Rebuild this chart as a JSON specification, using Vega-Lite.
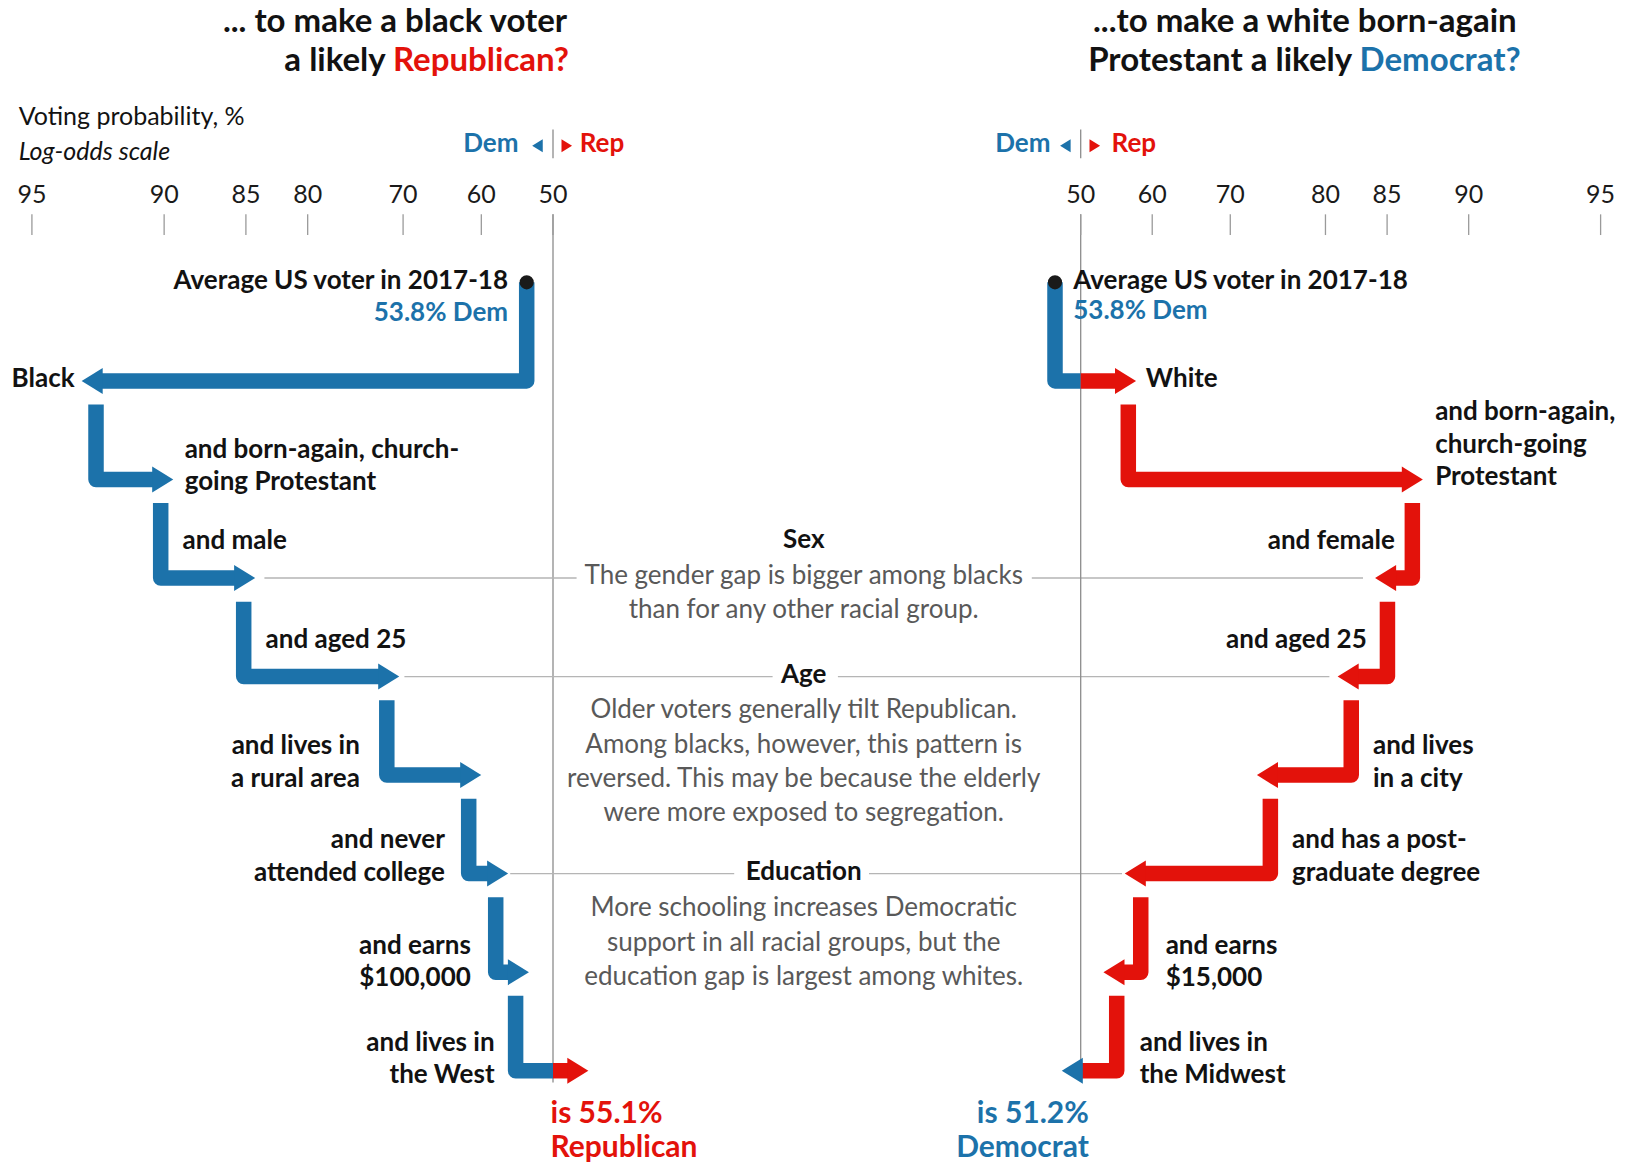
{
"$schema":"https://vega.github.io/schema/vega-lite/v6.json",
"width":1626,"height":1167,
"autosize":{"type":"fit","contains":"padding"},
"padding":0,
"background":"#ffffff",
"config":{"view":{"stroke":null},"font":"Lato"},
"datasets":{
"pathL":[
{"seg":"L1","o":1,"lo":-0.1486,"s":0,"c":"Dem"},{"seg":"L1","o":2,"lo":-0.1486,"s":1,"c":"Dem"},{"seg":"L1","o":3,"lo":-2.561,"s":1,"c":"Dem"},
{"seg":"L2","o":1,"lo":-2.5819,"s":1.24,"c":"Dem"},{"seg":"L2","o":2,"lo":-2.5819,"s":2,"c":"Dem"},{"seg":"L2","o":3,"lo":-2.2475,"s":2,"c":"Dem"},
{"seg":"L3","o":1,"lo":-2.2164,"s":2.24,"c":"Dem"},{"seg":"L3","o":2,"lo":-2.2164,"s":3,"c":"Dem"},{"seg":"L3","o":3,"lo":-1.7847,"s":3,"c":"Dem"},
{"seg":"L4","o":1,"lo":-1.7475,"s":3.24,"c":"Dem"},{"seg":"L4","o":2,"lo":-1.7475,"s":4,"c":"Dem"},{"seg":"L4","o":3,"lo":-0.9706,"s":4,"c":"Dem"},
{"seg":"L5","o":1,"lo":-0.939,"s":4.24,"c":"Dem"},{"seg":"L5","o":2,"lo":-0.939,"s":5,"c":"Dem"},{"seg":"L5","o":3,"lo":-0.5073,"s":5,"c":"Dem"},
{"seg":"L6","o":1,"lo":-0.4763,"s":5.24,"c":"Dem"},{"seg":"L6","o":2,"lo":-0.4763,"s":6,"c":"Dem"},{"seg":"L6","o":3,"lo":-0.3554,"s":6,"c":"Dem"},
{"seg":"L7","o":1,"lo":-0.3237,"s":6.24,"c":"Dem"},{"seg":"L7","o":2,"lo":-0.3237,"s":7,"c":"Dem"},{"seg":"L7","o":3,"lo":-0.2379,"s":7,"c":"Dem"},
{"seg":"L8a","o":1,"lo":-0.2113,"s":7.24,"c":"Dem"},{"seg":"L8a","o":2,"lo":-0.2113,"s":8,"c":"Dem"},{"seg":"L8a","o":3,"lo":0,"s":8,"c":"Dem"},
{"seg":"L8b","o":1,"lo":0,"s":8,"c":"Rep"},{"seg":"L8b","o":2,"lo":0.0977,"s":8,"c":"Rep"}
],
"headL":[
{"lo":-2.5441,"s":1,"dir":"left","c":"Dem"},{"lo":-2.2644,"s":2,"dir":"right","c":"Dem"},{"lo":-1.8017,"s":3,"dir":"right","c":"Dem"},{"lo":-0.9876,"s":4,"dir":"right","c":"Dem"},
{"lo":-0.5243,"s":5,"dir":"right","c":"Dem"},{"lo":-0.3723,"s":6,"dir":"right","c":"Dem"},{"lo":-0.2548,"s":7,"dir":"right","c":"Dem"},{"lo":0.0808,"s":8,"dir":"right","c":"Rep"}
],
"markL":[{"lo":-0.058,"s":-1.385,"dir":"left","c":"Dem"},{"lo":0.048,"s":-1.385,"dir":"right","c":"Rep"}],
"dotL":[{"lo":-0.1486,"s":0}],
"ticksL":[{"lo":-2.944,"lab":"95"},{"lo":-2.197,"lab":"90"},{"lo":-1.735,"lab":"85"},{"lo":-1.386,"lab":"80"},{"lo":-0.847,"lab":"70"},{"lo":-0.405,"lab":"60"},{"lo":0,"lab":"50"}],
"vL":[{"lo":0,"s1":-0.69,"s2":8.12},{"lo":0,"s1":-1.55,"s2":-1.26}],
"hL":[{"lo":-1.6305,"lo2":0.1333,"s":3},{"lo":2.7051,"lo2":4.5763,"s":3},{"lo":-0.8395,"lo2":1.2407,"s":4},{"lo":1.6096,"lo2":4.3864,"s":4},{"lo":-0.2418,"lo2":1.0237,"s":6},{"lo":1.7853,"lo2":3.2147,"s":6}],
"txtL":[
{"t":"Average US voter in 2017-18","lo":-0.254,"s":-0.013,"c":"ink","r":"label","a":"right"},
{"t":"53.8% Dem","lo":-0.254,"s":0.313,"c":"Dem","r":"label","a":"right"},
{"t":"Black","lo":-2.703,"s":0.976,"c":"ink","r":"label","a":"right"},
{"t":"and born-again, church-","lo":-2.081,"s":1.7,"c":"ink","r":"label","a":"left"},
{"t":"going Protestant","lo":-2.081,"s":2.028,"c":"ink","r":"label","a":"left"},
{"t":"and male","lo":-2.093,"s":2.628,"c":"ink","r":"label","a":"left"},
{"t":"and aged 25","lo":-1.624,"s":3.628,"c":"ink","r":"label","a":"left"},
{"t":"and lives in","lo":-1.091,"s":4.701,"c":"ink","r":"label","a":"right"},
{"t":"a rural area","lo":-1.091,"s":5.038,"c":"ink","r":"label","a":"right"},
{"t":"and never","lo":-0.611,"s":5.659,"c":"ink","r":"label","a":"right"},
{"t":"attended college","lo":-0.611,"s":5.996,"c":"ink","r":"label","a":"right"},
{"t":"and earns","lo":-0.464,"s":6.732,"c":"ink","r":"label","a":"right"},
{"t":"$100,000","lo":-0.464,"s":7.058,"c":"ink","r":"label","a":"right"},
{"t":"and lives in","lo":-0.33,"s":7.721,"c":"ink","r":"label","a":"right"},
{"t":"the West","lo":-0.33,"s":8.048,"c":"ink","r":"label","a":"right"},
{"t":"is 55.1%","lo":-0.014,"s":8.44,"c":"Rep","r":"result","a":"left"},
{"t":"Republican","lo":-0.014,"s":8.78,"c":"Rep","r":"result","a":"left"},
{"t":"... to make a black voter","lo":0.08,"s":-2.643,"c":"ink","r":"title","a":"right"},
{"t":"a likely","lo":-0.945,"s":-2.243,"c":"ink","r":"title","a":"right"},
{"t":"Republican?","lo":-0.904,"s":-2.243,"c":"Rep","r":"title","a":"left"},
{"t":"Voting probability, %","lo":-3.019,"s":-1.675,"c":"ink","r":"axis","a":"left"},
{"t":"Log-odds scale","lo":-3.019,"s":-1.318,"c":"ink","r":"axisnote","a":"left"},
{"t":"Dem","lo":-0.195,"s":-1.402,"c":"Dem","r":"party","a":"right"},
{"t":"Rep","lo":0.151,"s":-1.402,"c":"Rep","r":"party","a":"left"},
{"t":"Sex","lo":1.4164,"s":2.618,"c":"ink","r":"topic","a":"center"},
{"t":"The gender gap is bigger among blacks","lo":1.4164,"s":2.975,"c":"note","r":"note","a":"center"},
{"t":"than for any other racial group.","lo":1.4164,"s":3.323,"c":"note","r":"note","a":"center"},
{"t":"Age","lo":1.4164,"s":3.986,"c":"ink","r":"topic","a":"center"},
{"t":"Older voters generally tilt Republican.","lo":1.4164,"s":4.343,"c":"note","r":"note","a":"center"},
{"t":"Among blacks, however, this pattern is","lo":1.4164,"s":4.691,"c":"note","r":"note","a":"center"},
{"t":"reversed. This may be because the elderly","lo":1.4164,"s":5.038,"c":"note","r":"note","a":"center"},
{"t":"were more exposed to segregation.","lo":1.4164,"s":5.385,"c":"note","r":"note","a":"center"},
{"t":"Education","lo":1.4164,"s":5.985,"c":"ink","r":"topic","a":"center"},
{"t":"More schooling increases Democratic","lo":1.4164,"s":6.353,"c":"note","r":"note","a":"center"},
{"t":"support in all racial groups, but the","lo":1.4164,"s":6.7,"c":"note","r":"note","a":"center"},
{"t":"education gap is largest among whites.","lo":1.4164,"s":7.048,"c":"note","r":"note","a":"center"}
],
"pathR":[
{"seg":"R1a","o":1,"lo":-0.1455,"s":0,"c":"Dem"},{"seg":"R1a","o":2,"lo":-0.1455,"s":1,"c":"Dem"},{"seg":"R1a","o":3,"lo":0,"s":1,"c":"Dem"},
{"seg":"R1b","o":1,"lo":0,"s":1,"c":"Rep"},{"seg":"R1b","o":2,"lo":0.2112,"s":1,"c":"Rep"},
{"seg":"R2","o":1,"lo":0.2695,"s":1.24,"c":"Rep"},{"seg":"R2","o":2,"lo":0.2695,"s":2,"c":"Rep"},{"seg":"R2","o":3,"lo":1.8352,"s":2,"c":"Rep"},
{"seg":"R3","o":1,"lo":1.878,"s":2.24,"c":"Rep"},{"seg":"R3","o":2,"lo":1.878,"s":3,"c":"Rep"},{"seg":"R3","o":3,"lo":1.769,"s":3,"c":"Rep"},
{"seg":"R4","o":1,"lo":1.737,"s":3.24,"c":"Rep"},{"seg":"R4","o":2,"lo":1.737,"s":4,"c":"Rep"},{"seg":"R4","o":3,"lo":1.5572,"s":4,"c":"Rep"},
{"seg":"R5","o":1,"lo":1.532,"s":4.24,"c":"Rep"},{"seg":"R5","o":2,"lo":1.532,"s":5,"c":"Rep"},{"seg":"R5","o":3,"lo":1.1002,"s":5,"c":"Rep"},
{"seg":"R6","o":1,"lo":1.074,"s":5.24,"c":"Rep"},{"seg":"R6","o":2,"lo":1.074,"s":6,"c":"Rep"},{"seg":"R6","o":3,"lo":0.3516,"s":6,"c":"Rep"},
{"seg":"R7","o":1,"lo":0.34,"s":6.24,"c":"Rep"},{"seg":"R7","o":2,"lo":0.34,"s":7,"c":"Rep"},{"seg":"R7","o":3,"lo":0.231,"s":7,"c":"Rep"},
{"seg":"R8","o":1,"lo":0.204,"s":7.24,"c":"Rep"},{"seg":"R8","o":2,"lo":0.204,"s":8,"c":"Rep"},{"seg":"R8","o":3,"lo":0,"s":8,"c":"Rep"}
],
"headR":[
{"lo":0.1942,"s":1,"dir":"right","c":"Rep"},{"lo":1.8182,"s":2,"dir":"right","c":"Rep"},{"lo":1.786,"s":3,"dir":"left","c":"Rep"},{"lo":1.5742,"s":4,"dir":"left","c":"Rep"},
{"lo":1.1172,"s":5,"dir":"left","c":"Rep"},{"lo":0.3686,"s":6,"dir":"left","c":"Rep"},{"lo":0.248,"s":7,"dir":"left","c":"Rep"},{"lo":0.012,"s":8,"dir":"left","c":"Dem"}
],
"markR":[{"lo":-0.057,"s":-1.385,"dir":"left","c":"Dem"},{"lo":0.05,"s":-1.385,"dir":"right","c":"Rep"}],
"dotR":[{"lo":-0.1455,"s":0}],
"ticksR":[{"lo":0,"lab":"50"},{"lo":0.405,"lab":"60"},{"lo":0.847,"lab":"70"},{"lo":1.386,"lab":"80"},{"lo":1.735,"lab":"85"},{"lo":2.197,"lab":"90"},{"lo":2.944,"lab":"95"}],
"vR":[{"lo":0,"s1":-0.69,"s2":8.07},{"lo":0,"s1":-1.55,"s2":-1.26}],
"txtR":[
{"t":"Average US voter in 2017-18","lo":-0.042,"s":-0.013,"c":"ink","r":"label","a":"left"},
{"t":"53.8% Dem","lo":-0.042,"s":0.29,"c":"Dem","r":"label","a":"left"},
{"t":"White","lo":0.369,"s":0.976,"c":"ink","r":"label","a":"left"},
{"t":"and born-again,","lo":2.007,"s":1.313,"c":"ink","r":"label","a":"left"},
{"t":"church-going","lo":2.007,"s":1.65,"c":"ink","r":"label","a":"left"},
{"t":"Protestant","lo":2.007,"s":1.976,"c":"ink","r":"label","a":"left"},
{"t":"and female","lo":1.779,"s":2.628,"c":"ink","r":"label","a":"right"},
{"t":"and aged 25","lo":1.62,"s":3.628,"c":"ink","r":"label","a":"right"},
{"t":"and lives","lo":1.655,"s":4.701,"c":"ink","r":"label","a":"left"},
{"t":"in a city","lo":1.655,"s":5.038,"c":"ink","r":"label","a":"left"},
{"t":"and has a post-","lo":1.197,"s":5.659,"c":"ink","r":"label","a":"left"},
{"t":"graduate degree","lo":1.197,"s":5.996,"c":"ink","r":"label","a":"left"},
{"t":"and earns","lo":0.481,"s":6.732,"c":"ink","r":"label","a":"left"},
{"t":"$15,000","lo":0.481,"s":7.058,"c":"ink","r":"label","a":"left"},
{"t":"and lives in","lo":0.334,"s":7.721,"c":"ink","r":"label","a":"left"},
{"t":"the Midwest","lo":0.334,"s":8.048,"c":"ink","r":"label","a":"left"},
{"t":"is 51.2%","lo":0.046,"s":8.44,"c":"Dem","r":"result","a":"right"},
{"t":"Democrat","lo":0.046,"s":8.78,"c":"Dem","r":"result","a":"right"},
{"t":"...to make a white born-again","lo":0.0697,"s":-2.643,"c":"ink","r":"title","a":"left"},
{"t":"Protestant a likely","lo":1.537,"s":-2.243,"c":"ink","r":"title","a":"right"},
{"t":"Democrat?","lo":1.579,"s":-2.243,"c":"Dem","r":"title","a":"left"},
{"t":"Dem","lo":-0.171,"s":-1.402,"c":"Dem","r":"party","a":"right"},
{"t":"Rep","lo":0.175,"s":-1.402,"c":"Rep","r":"party","a":"left"}
]
},
"resolve":{"scale":{"x":"independent"}},
"layer":[
{"layer":[
{"data":{"name":"vL"},"mark":{"type":"rule","color":"#8c8c8c","strokeWidth":1.3},
 "encoding":{"x":{"field":"lo","type":"quantitative","scale":{"domain":[-3.1243,6.0621],"nice":false,"zero":false},"axis":null},
 "y":{"field":"s1","type":"quantitative","scale":{"domain":[-2.865,8.977],"nice":false,"zero":false,"reverse":true},"axis":null},"y2":{"field":"s2"}}},
{"data":{"name":"ticksL"},"mark":{"type":"rule","color":"#9a9a9a","strokeWidth":1.3},
 "encoding":{"x":{"field":"lo","type":"quantitative","scale":{"domain":[-3.1243,6.0621],"nice":false,"zero":false},"axis":null},
 "y":{"datum":-0.69,"type":"quantitative","scale":{"domain":[-2.865,8.977],"nice":false,"zero":false,"reverse":true},"axis":null},"y2":{"datum":-0.48}}},
{"data":{"name":"ticksL"},"mark":{"type":"text","font":"Lato","fontSize":25,"align":"center","baseline":"middle","color":"#1a1a1a"},
 "encoding":{"x":{"field":"lo","type":"quantitative","scale":{"domain":[-3.1243,6.0621],"nice":false,"zero":false},"axis":null},
 "y":{"datum":-0.89,"type":"quantitative","scale":{"domain":[-2.865,8.977],"nice":false,"zero":false,"reverse":true},"axis":null},"text":{"field":"lab"}}},
{"data":{"name":"hL"},"mark":{"type":"rule","color":"#b5b5b5","strokeWidth":1.3},
 "encoding":{"x":{"field":"lo","type":"quantitative","scale":{"domain":[-3.1243,6.0621],"nice":false,"zero":false},"axis":null},"x2":{"field":"lo2"},
 "y":{"field":"s","type":"quantitative","scale":{"domain":[-2.865,8.977],"nice":false,"zero":false,"reverse":true},"axis":null}}},
{"data":{"name":"pathL"},"mark":{"type":"line","strokeWidth":15.5,"strokeJoin":"round","strokeCap":"butt"},
 "encoding":{"x":{"field":"lo","type":"quantitative","scale":{"domain":[-3.1243,6.0621],"nice":false,"zero":false},"axis":null},
 "y":{"field":"s","type":"quantitative","scale":{"domain":[-2.865,8.977],"nice":false,"zero":false,"reverse":true},"axis":null},
 "detail":{"field":"seg"},"order":{"field":"o"},
 "color":{"field":"c","type":"nominal","scale":{"domain":["ink","Dem","Rep","note"],"range":["#121212","#1c72aa","#e3120b","#595959"]},"legend":null}}},
{"data":{"name":"headL"},"mark":{"type":"point","filled":true,"opacity":1,"size":676,"strokeWidth":0},
 "encoding":{"x":{"field":"lo","type":"quantitative","scale":{"domain":[-3.1243,6.0621],"nice":false,"zero":false},"axis":null},
 "y":{"field":"s","type":"quantitative","scale":{"domain":[-2.865,8.977],"nice":false,"zero":false,"reverse":true},"axis":null},
 "shape":{"field":"dir","type":"nominal","scale":{"domain":["left","right"],"range":["M 0 -1 L -1.62 0 L 0 1 Z","M 0 -1 L 1.62 0 L 0 1 Z"]},"legend":null},
 "color":{"field":"c","type":"nominal","scale":{"domain":["ink","Dem","Rep","note"],"range":["#121212","#1c72aa","#e3120b","#595959"]},"legend":null}}},
{"data":{"name":"markL"},"mark":{"type":"point","filled":true,"opacity":1,"size":170,"strokeWidth":0},
 "encoding":{"x":{"field":"lo","type":"quantitative","scale":{"domain":[-3.1243,6.0621],"nice":false,"zero":false},"axis":null},
 "y":{"field":"s","type":"quantitative","scale":{"domain":[-2.865,8.977],"nice":false,"zero":false,"reverse":true},"axis":null},
 "shape":{"field":"dir","type":"nominal","scale":{"domain":["left","right"],"range":["M 0 -1 L -1.62 0 L 0 1 Z","M 0 -1 L 1.62 0 L 0 1 Z"]},"legend":null},
 "color":{"field":"c","type":"nominal","scale":{"domain":["ink","Dem","Rep","note"],"range":["#121212","#1c72aa","#e3120b","#595959"]},"legend":null}}},
{"data":{"name":"dotL"},"mark":{"type":"point","filled":true,"opacity":1,"size":200,"color":"#1a1a1a","strokeWidth":0},
 "encoding":{"x":{"field":"lo","type":"quantitative","scale":{"domain":[-3.1243,6.0621],"nice":false,"zero":false},"axis":null},
 "y":{"field":"s","type":"quantitative","scale":{"domain":[-2.865,8.977],"nice":false,"zero":false,"reverse":true},"axis":null}}},
{"data":{"name":"txtL"},"transform":[{"filter":"(datum.r=='label'||datum.r=='party')&&datum.a=='left'"}],
 "mark":{"type":"text","font":"Lato","fontWeight":"bold","fontSize":26,"align":"left","baseline":"middle"},
 "encoding":{"x":{"field":"lo","type":"quantitative","scale":{"domain":[-3.1243,6.0621],"nice":false,"zero":false},"axis":null},
 "y":{"field":"s","type":"quantitative","scale":{"domain":[-2.865,8.977],"nice":false,"zero":false,"reverse":true},"axis":null},"text":{"field":"t"},
 "color":{"field":"c","type":"nominal","scale":{"domain":["ink","Dem","Rep","note"],"range":["#121212","#1c72aa","#e3120b","#595959"]},"legend":null}}},
{"data":{"name":"txtL"},"transform":[{"filter":"(datum.r=='label'||datum.r=='party')&&datum.a=='right'"}],
 "mark":{"type":"text","font":"Lato","fontWeight":"bold","fontSize":26,"align":"right","baseline":"middle"},
 "encoding":{"x":{"field":"lo","type":"quantitative","scale":{"domain":[-3.1243,6.0621],"nice":false,"zero":false},"axis":null},
 "y":{"field":"s","type":"quantitative","scale":{"domain":[-2.865,8.977],"nice":false,"zero":false,"reverse":true},"axis":null},"text":{"field":"t"},
 "color":{"field":"c","type":"nominal","scale":{"domain":["ink","Dem","Rep","note"],"range":["#121212","#1c72aa","#e3120b","#595959"]},"legend":null}}},
{"data":{"name":"txtL"},"transform":[{"filter":"datum.r=='topic'"}],
 "mark":{"type":"text","font":"Lato","fontWeight":"bold","fontSize":26,"align":"center","baseline":"middle"},
 "encoding":{"x":{"field":"lo","type":"quantitative","scale":{"domain":[-3.1243,6.0621],"nice":false,"zero":false},"axis":null},
 "y":{"field":"s","type":"quantitative","scale":{"domain":[-2.865,8.977],"nice":false,"zero":false,"reverse":true},"axis":null},"text":{"field":"t"},
 "color":{"field":"c","type":"nominal","scale":{"domain":["ink","Dem","Rep","note"],"range":["#121212","#1c72aa","#e3120b","#595959"]},"legend":null}}},
{"data":{"name":"txtL"},"transform":[{"filter":"datum.r=='note'"}],
 "mark":{"type":"text","font":"Lato","fontSize":26,"align":"center","baseline":"middle"},
 "encoding":{"x":{"field":"lo","type":"quantitative","scale":{"domain":[-3.1243,6.0621],"nice":false,"zero":false},"axis":null},
 "y":{"field":"s","type":"quantitative","scale":{"domain":[-2.865,8.977],"nice":false,"zero":false,"reverse":true},"axis":null},"text":{"field":"t"},
 "color":{"field":"c","type":"nominal","scale":{"domain":["ink","Dem","Rep","note"],"range":["#121212","#1c72aa","#e3120b","#595959"]},"legend":null}}},
{"data":{"name":"txtL"},"transform":[{"filter":"datum.r=='result'"}],
 "mark":{"type":"text","font":"Lato","fontWeight":"bold","fontSize":30,"align":"left","baseline":"middle"},
 "encoding":{"x":{"field":"lo","type":"quantitative","scale":{"domain":[-3.1243,6.0621],"nice":false,"zero":false},"axis":null},
 "y":{"field":"s","type":"quantitative","scale":{"domain":[-2.865,8.977],"nice":false,"zero":false,"reverse":true},"axis":null},"text":{"field":"t"},
 "color":{"field":"c","type":"nominal","scale":{"domain":["ink","Dem","Rep","note"],"range":["#121212","#1c72aa","#e3120b","#595959"]},"legend":null}}},
{"data":{"name":"txtL"},"transform":[{"filter":"datum.r=='title'&&datum.a=='right'"}],
 "mark":{"type":"text","font":"Lato","fontWeight":"bold","fontSize":33,"align":"right","baseline":"middle"},
 "encoding":{"x":{"field":"lo","type":"quantitative","scale":{"domain":[-3.1243,6.0621],"nice":false,"zero":false},"axis":null},
 "y":{"field":"s","type":"quantitative","scale":{"domain":[-2.865,8.977],"nice":false,"zero":false,"reverse":true},"axis":null},"text":{"field":"t"},
 "color":{"field":"c","type":"nominal","scale":{"domain":["ink","Dem","Rep","note"],"range":["#121212","#1c72aa","#e3120b","#595959"]},"legend":null}}},
{"data":{"name":"txtL"},"transform":[{"filter":"datum.r=='title'&&datum.a=='left'"}],
 "mark":{"type":"text","font":"Lato","fontWeight":"bold","fontSize":33,"align":"left","baseline":"middle"},
 "encoding":{"x":{"field":"lo","type":"quantitative","scale":{"domain":[-3.1243,6.0621],"nice":false,"zero":false},"axis":null},
 "y":{"field":"s","type":"quantitative","scale":{"domain":[-2.865,8.977],"nice":false,"zero":false,"reverse":true},"axis":null},"text":{"field":"t"},
 "color":{"field":"c","type":"nominal","scale":{"domain":["ink","Dem","Rep","note"],"range":["#121212","#1c72aa","#e3120b","#595959"]},"legend":null}}},
{"data":{"name":"txtL"},"transform":[{"filter":"datum.r=='axis'"}],
 "mark":{"type":"text","font":"Lato","fontSize":25,"align":"left","baseline":"middle"},
 "encoding":{"x":{"field":"lo","type":"quantitative","scale":{"domain":[-3.1243,6.0621],"nice":false,"zero":false},"axis":null},
 "y":{"field":"s","type":"quantitative","scale":{"domain":[-2.865,8.977],"nice":false,"zero":false,"reverse":true},"axis":null},"text":{"field":"t"},
 "color":{"field":"c","type":"nominal","scale":{"domain":["ink","Dem","Rep","note"],"range":["#121212","#1c72aa","#e3120b","#595959"]},"legend":null}}},
{"data":{"name":"txtL"},"transform":[{"filter":"datum.r=='axisnote'"}],
 "mark":{"type":"text","font":"Lato","fontSize":25,"fontStyle":"italic","align":"left","baseline":"middle"},
 "encoding":{"x":{"field":"lo","type":"quantitative","scale":{"domain":[-3.1243,6.0621],"nice":false,"zero":false},"axis":null},
 "y":{"field":"s","type":"quantitative","scale":{"domain":[-2.865,8.977],"nice":false,"zero":false,"reverse":true},"axis":null},"text":{"field":"t"},
 "color":{"field":"c","type":"nominal","scale":{"domain":["ink","Dem","Rep","note"],"range":["#121212","#1c72aa","#e3120b","#595959"]},"legend":null}}}
]},
{"layer":[
{"data":{"name":"vR"},"mark":{"type":"rule","color":"#8c8c8c","strokeWidth":1.3},
 "encoding":{"x":{"field":"lo","type":"quantitative","scale":{"domain":[-6.1195,3.0878],"nice":false,"zero":false},"axis":null},
 "y":{"field":"s1","type":"quantitative","scale":{"domain":[-2.865,8.977],"nice":false,"zero":false,"reverse":true},"axis":null},"y2":{"field":"s2"}}},
{"data":{"name":"ticksR"},"mark":{"type":"rule","color":"#9a9a9a","strokeWidth":1.3},
 "encoding":{"x":{"field":"lo","type":"quantitative","scale":{"domain":[-6.1195,3.0878],"nice":false,"zero":false},"axis":null},
 "y":{"datum":-0.69,"type":"quantitative","scale":{"domain":[-2.865,8.977],"nice":false,"zero":false,"reverse":true},"axis":null},"y2":{"datum":-0.48}}},
{"data":{"name":"ticksR"},"mark":{"type":"text","font":"Lato","fontSize":25,"align":"center","baseline":"middle","color":"#1a1a1a"},
 "encoding":{"x":{"field":"lo","type":"quantitative","scale":{"domain":[-6.1195,3.0878],"nice":false,"zero":false},"axis":null},
 "y":{"datum":-0.89,"type":"quantitative","scale":{"domain":[-2.865,8.977],"nice":false,"zero":false,"reverse":true},"axis":null},"text":{"field":"lab"}}},
{"data":{"name":"pathR"},"mark":{"type":"line","strokeWidth":15.5,"strokeJoin":"round","strokeCap":"butt"},
 "encoding":{"x":{"field":"lo","type":"quantitative","scale":{"domain":[-6.1195,3.0878],"nice":false,"zero":false},"axis":null},
 "y":{"field":"s","type":"quantitative","scale":{"domain":[-2.865,8.977],"nice":false,"zero":false,"reverse":true},"axis":null},
 "detail":{"field":"seg"},"order":{"field":"o"},
 "color":{"field":"c","type":"nominal","scale":{"domain":["ink","Dem","Rep","note"],"range":["#121212","#1c72aa","#e3120b","#595959"]},"legend":null}}},
{"data":{"name":"headR"},"mark":{"type":"point","filled":true,"opacity":1,"size":676,"strokeWidth":0},
 "encoding":{"x":{"field":"lo","type":"quantitative","scale":{"domain":[-6.1195,3.0878],"nice":false,"zero":false},"axis":null},
 "y":{"field":"s","type":"quantitative","scale":{"domain":[-2.865,8.977],"nice":false,"zero":false,"reverse":true},"axis":null},
 "shape":{"field":"dir","type":"nominal","scale":{"domain":["left","right"],"range":["M 0 -1 L -1.62 0 L 0 1 Z","M 0 -1 L 1.62 0 L 0 1 Z"]},"legend":null},
 "color":{"field":"c","type":"nominal","scale":{"domain":["ink","Dem","Rep","note"],"range":["#121212","#1c72aa","#e3120b","#595959"]},"legend":null}}},
{"data":{"name":"markR"},"mark":{"type":"point","filled":true,"opacity":1,"size":170,"strokeWidth":0},
 "encoding":{"x":{"field":"lo","type":"quantitative","scale":{"domain":[-6.1195,3.0878],"nice":false,"zero":false},"axis":null},
 "y":{"field":"s","type":"quantitative","scale":{"domain":[-2.865,8.977],"nice":false,"zero":false,"reverse":true},"axis":null},
 "shape":{"field":"dir","type":"nominal","scale":{"domain":["left","right"],"range":["M 0 -1 L -1.62 0 L 0 1 Z","M 0 -1 L 1.62 0 L 0 1 Z"]},"legend":null},
 "color":{"field":"c","type":"nominal","scale":{"domain":["ink","Dem","Rep","note"],"range":["#121212","#1c72aa","#e3120b","#595959"]},"legend":null}}},
{"data":{"name":"dotR"},"mark":{"type":"point","filled":true,"opacity":1,"size":200,"color":"#1a1a1a","strokeWidth":0},
 "encoding":{"x":{"field":"lo","type":"quantitative","scale":{"domain":[-6.1195,3.0878],"nice":false,"zero":false},"axis":null},
 "y":{"field":"s","type":"quantitative","scale":{"domain":[-2.865,8.977],"nice":false,"zero":false,"reverse":true},"axis":null}}},
{"data":{"name":"txtR"},"transform":[{"filter":"(datum.r=='label'||datum.r=='party')&&datum.a=='left'"}],
 "mark":{"type":"text","font":"Lato","fontWeight":"bold","fontSize":26,"align":"left","baseline":"middle"},
 "encoding":{"x":{"field":"lo","type":"quantitative","scale":{"domain":[-6.1195,3.0878],"nice":false,"zero":false},"axis":null},
 "y":{"field":"s","type":"quantitative","scale":{"domain":[-2.865,8.977],"nice":false,"zero":false,"reverse":true},"axis":null},"text":{"field":"t"},
 "color":{"field":"c","type":"nominal","scale":{"domain":["ink","Dem","Rep","note"],"range":["#121212","#1c72aa","#e3120b","#595959"]},"legend":null}}},
{"data":{"name":"txtR"},"transform":[{"filter":"(datum.r=='label'||datum.r=='party')&&datum.a=='right'"}],
 "mark":{"type":"text","font":"Lato","fontWeight":"bold","fontSize":26,"align":"right","baseline":"middle"},
 "encoding":{"x":{"field":"lo","type":"quantitative","scale":{"domain":[-6.1195,3.0878],"nice":false,"zero":false},"axis":null},
 "y":{"field":"s","type":"quantitative","scale":{"domain":[-2.865,8.977],"nice":false,"zero":false,"reverse":true},"axis":null},"text":{"field":"t"},
 "color":{"field":"c","type":"nominal","scale":{"domain":["ink","Dem","Rep","note"],"range":["#121212","#1c72aa","#e3120b","#595959"]},"legend":null}}},
{"data":{"name":"txtR"},"transform":[{"filter":"datum.r=='result'"}],
 "mark":{"type":"text","font":"Lato","fontWeight":"bold","fontSize":30,"align":"right","baseline":"middle"},
 "encoding":{"x":{"field":"lo","type":"quantitative","scale":{"domain":[-6.1195,3.0878],"nice":false,"zero":false},"axis":null},
 "y":{"field":"s","type":"quantitative","scale":{"domain":[-2.865,8.977],"nice":false,"zero":false,"reverse":true},"axis":null},"text":{"field":"t"},
 "color":{"field":"c","type":"nominal","scale":{"domain":["ink","Dem","Rep","note"],"range":["#121212","#1c72aa","#e3120b","#595959"]},"legend":null}}},
{"data":{"name":"txtR"},"transform":[{"filter":"datum.r=='title'&&datum.a=='left'"}],
 "mark":{"type":"text","font":"Lato","fontWeight":"bold","fontSize":33,"align":"left","baseline":"middle"},
 "encoding":{"x":{"field":"lo","type":"quantitative","scale":{"domain":[-6.1195,3.0878],"nice":false,"zero":false},"axis":null},
 "y":{"field":"s","type":"quantitative","scale":{"domain":[-2.865,8.977],"nice":false,"zero":false,"reverse":true},"axis":null},"text":{"field":"t"},
 "color":{"field":"c","type":"nominal","scale":{"domain":["ink","Dem","Rep","note"],"range":["#121212","#1c72aa","#e3120b","#595959"]},"legend":null}}},
{"data":{"name":"txtR"},"transform":[{"filter":"datum.r=='title'&&datum.a=='right'"}],
 "mark":{"type":"text","font":"Lato","fontWeight":"bold","fontSize":33,"align":"right","baseline":"middle"},
 "encoding":{"x":{"field":"lo","type":"quantitative","scale":{"domain":[-6.1195,3.0878],"nice":false,"zero":false},"axis":null},
 "y":{"field":"s","type":"quantitative","scale":{"domain":[-2.865,8.977],"nice":false,"zero":false,"reverse":true},"axis":null},"text":{"field":"t"},
 "color":{"field":"c","type":"nominal","scale":{"domain":["ink","Dem","Rep","note"],"range":["#121212","#1c72aa","#e3120b","#595959"]},"legend":null}}}
]}
]
}
